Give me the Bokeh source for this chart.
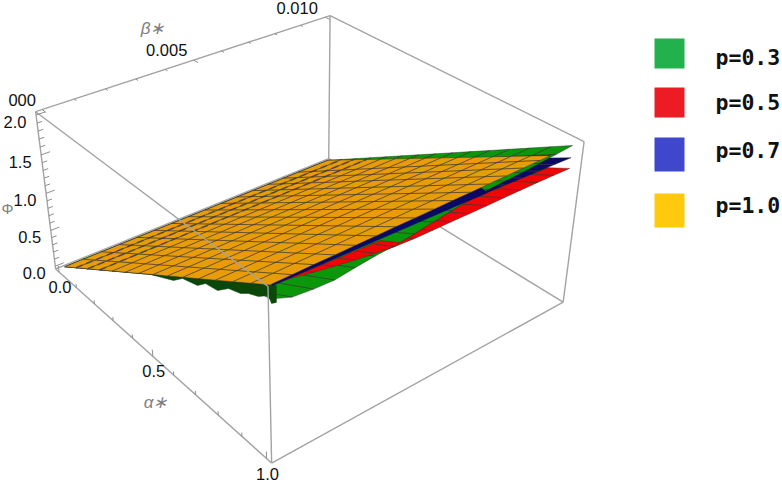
import numpy as np
from bokeh.plotting import figure
from bokeh.core.properties import value
from bokeh.embed import file_html
from bokeh.resources import INLINE

# ---- data -----------------------------------------------------------------
series_names = ["p=0.3", "p=0.5", "p=0.7", "p=1.0"]
legend_colors = ["#22b14c", "#ed1c24", "#3f48cc", "#ffc90e"]
sheet_green, sheet_red, sheet_blue, sheet_orange = "#0a980a", "#ee0606", "#0a0a66", "#e89c08"
under_color = "#0b470b"

beta_frac = [i / 16 for i in range(17)]
alpha_frac = [i / 14 for i in range(15)]

# Phi along alpha=1 at beta = j/16 * 0.01
orange_right = [1.975,1.976,1.977,1.977,1.978,1.979,1.980,1.980,1.981,1.982,1.982,1.983,1.984,1.985,1.985,1.986,1.987]
green_right  = [1.820,1.729,1.705,1.696,1.727,1.753,1.768,1.798,1.834,1.867,1.897,1.918,1.926,1.935,1.951,1.968,1.986]
blue_right   = [1.966,1.960,1.953,1.946,1.939,1.933,1.926,1.918,1.910,1.902,1.894,1.886,1.877,1.868,1.858,1.848,1.838]
red_right    = [1.961,1.939,1.892,1.852,1.814,1.783,1.756,1.742,1.738,1.735,1.731,1.727,1.726,1.724,1.720,1.714,1.707]
beta_end = {"orange": 0.00914, "green": 0.0100, "blue": 0.0100, "red": 0.0100}

# Phi along beta=0 at alpha = i/14
orange_front = [0.000,0.141,0.282,0.423,0.564,0.705,0.846,0.987,1.128,1.269,1.410,1.551,1.692,1.833,1.975]
green_front  = [0.000,0.141,0.282,0.423,0.564,0.705,0.846,0.987,1.128,1.269,1.410,1.551,1.700,1.780,1.820]
blue_front   = [0.000,0.141,0.282,0.423,0.564,0.705,0.846,0.987,1.128,1.269,1.410,1.551,1.692,1.833,1.966]
red_front    = [0.000,0.141,0.282,0.423,0.564,0.705,0.846,0.987,1.128,1.269,1.410,1.551,1.692,1.833,1.961]

# dark underside below the front edge (beta=0)
under_alpha = [0.489,0.488,0.598,0.641,0.707,0.743,0.793,0.839,0.887,0.918,0.957,0.994,1.005,1.023,1.024]
under_phi   = [1.016,0.962,1.131,1.250,1.313,1.416,1.447,1.574,1.625,1.696,1.750,1.847,1.783,1.837,2.023]

# red wedge over the green sheet and blue strip over it (alpha=1)
wedge_beta = [0.00010,0.000625,0.00125,0.001875,0.0025,0.003125,0.00375,0.00389,0.00327]
wedge_phi  = [1.961,1.939,1.892,1.852,1.814,1.783,1.756,1.778,1.903]
strip_beta = [0.00007,0.00685,0.00620,-0.00003]
strip_phi  = [1.955,1.887,2.125,2.082]

alpha_ticks = [i / 10 for i in range(11)]
beta_ticks  = [i / 1000 for i in range(11)]
phi_ticks   = [i / 10 for i in range(21)]
alpha_labels = {0.0: "0.0", 0.5: "0.5", 1.0: "1.0"}
beta_labels  = {0.0: "000", 0.005: "0.005", 0.01: "0.010"}
phi_labels   = {0.0: "0.0", 0.5: "0.5", 1.0: "1.0", 1.5: "1.5", 2.0: "2.0"}

A0, A1 = -0.02, 1.02
B0, B1 = -0.0002, 0.0102
F0, F1 = -0.04, 2.04

# camera of the 3D box
P = np.array([[160.41995, 309.96182, -21.77983, 64.24045],
              [105.67301, -83.6789, -159.40387, 266.28007],
              [-0.17586, 0.14277, -0.07069, 1.0]])

def proj(a, b, f):
    a, b, f = np.asarray(a, float), np.asarray(b, float), np.asarray(f, float)
    X = np.stack([a, b * 100, f / 2, np.ones_like(a + b + f)])
    h = P @ X
    return (h[0] / h[2]).tolist(), (h[1] / h[2]).tolist()

p = figure(width=782, height=482, x_range=(0, 782), y_range=(482, 0),
           output_backend="svg", toolbar_location=None,
           x_axis_location=None, y_axis_location=None, min_border=0)
p.grid.visible = False
p.outline_line_color = None

BOX = "#a3a3a3"
def edge(a, b, width=1.4):
    x, y = proj([a[0], b[0]], [a[1], b[1]], [a[2], b[2]])
    p.line(x, y, line_color=BOX, line_width=width)

# back edges of the box (beneath the surfaces)
edge((A0, B1, F0), (A0, B1, F1))
edge((A0, B1, F1), (A1, B1, F1))
edge((A0, B1, F0), (A1, B1, F0))
edge((A0, B0, F0), (A0, B1, F0))
edge((A1, B1, F0), (A1, B1, F1))
edge((A1, B0, F0), (A1, B1, F0))

bf = np.array(beta_frac)
af = np.array(alpha_frac)

def sheet(color, right, front, bend):
    right, front = np.array(right), np.array(front)
    betas = np.minimum(bf * 0.01, bend)
    back_b, back_f = 0.01 + af * (bend - 0.01), af * right[-1]
    a = np.concatenate([af, np.ones(17), af[::-1]])
    b = np.concatenate([np.zeros(15), betas, back_b[::-1]])
    f = np.concatenate([front, right, back_f[::-1]])
    x, y = proj(a, b, f)
    p.patch(x, y, fill_color=color, line_color="#222222", line_width=0.6, line_alpha=0.7)
    xs, ys = [], []
    for j in range(1, 16):
        if bf[j] * 0.01 >= bend:
            continue
        lx, ly = proj([0, 1], [0.01 * bf[j], betas[j]], [0, right[j]])
        xs.append(lx); ys.append(ly)
    for i in range(1, 14):
        lx, ly = proj([af[i], af[i]], [0, back_b[i]], [front[i], back_f[i]])
        xs.append(lx); ys.append(ly)
    p.multi_line(xs, ys, line_color="#3a3a3a", line_width=1, line_alpha=0.75)
    return back_b, back_f

sheet(sheet_red, red_right, red_front, beta_end["red"])
sheet(sheet_blue, blue_right, blue_front, beta_end["blue"])
sheet(sheet_green, green_right, green_front, beta_end["green"])

# underside
x, y = proj(under_alpha, np.zeros(len(under_alpha)), under_phi)
p.patch(x, y, fill_color=under_color, line_color=under_color, line_width=0.5)

# red wedge in front of green
x, y = proj(np.ones(len(wedge_beta)), wedge_beta, wedge_phi)
p.patch(x, y, fill_color=sheet_red, line_color="#222222", line_width=0.5, line_alpha=0.6)
xs, ys = [], []
for j in range(1, 7):
    lx, ly = proj([1, 0.93], [bf[j] * 0.01, bf[j] * 0.01], [red_right[j], red_right[j] * 0.93])
    xs.append(lx); ys.append(ly)
p.multi_line(xs, ys, line_color="#3a3a3a", line_width=1, line_alpha=0.75)

# blue strip above the wedge
x, y = proj(np.ones(len(strip_beta)), strip_beta, strip_phi)
p.patch(x, y, fill_color=sheet_blue, line_color=sheet_blue, line_width=0.5)

back_b, back_f = sheet(sheet_orange, orange_right, orange_front, beta_end["orange"])

# mesh lines of the sheets beneath show through next to the alpha=0 edge
xs, ys = [], []
for i in (1, 2, 3):
    lx, ly = proj([af[i], af[i]], [0, back_b[i]], [orange_front[i], back_f[i]])
    xs.append(lx); ys.append(ly)
p.multi_line(xs, ys, line_color="#35353f", line_width=1.7, line_alpha=0.55, line_dash="7 4")

# front edges over the surfaces
edge((A0, B0, F1), (A1, B0, F1))
edge((A1, B0, F0), (A1, B0, F1))
edge((A0, B0, F0), (A1, B0, F0))
edge((A0, B0, F0), (A0, B0, F1))
edge((A0, B0, F1), (A0, B1, F1))

# ticks
TICK = "#8f8f8f"
xs, ys = [], []
for t in alpha_ticks:
    L = 0.09 if t in alpha_labels else 0.05
    lx, ly = proj([t, t], [B0, B0], [F0, F0 + L]); xs.append(lx); ys.append(ly)
for t in beta_ticks:
    L = 0.022 if t in beta_labels else 0.012
    lx, ly = proj([A0, A0 + L], [t, t], [F1, F1]); xs.append(lx); ys.append(ly)
for t in phi_ticks:
    L = 0.00028 if t in phi_labels else 0.00016
    lx, ly = proj([A0, A0], [B0, B0 + L], [t, t]); xs.append(lx); ys.append(ly)
p.multi_line(xs, ys, line_color=TICK, line_width=1)

# tick labels
font = value("Liberation Sans")
tx, ty, tt = [], [], []
for t, s in alpha_labels.items():
    lx, ly = proj([t], [B0], [F0]); tx.append(lx[0] + 1); ty.append(ly[0] + 15); tt.append(s)
for (t, s), off in zip(beta_labels.items(), [(-20, -10), (-27, -10), (-28, -9)]):
    lx, ly = proj([A0], [t], [F1]); tx.append(lx[0] + off[0]); ty.append(ly[0] + off[1]); tt.append(s)
for t, s in phi_labels.items():
    lx, ly = proj([A0], [B0], [t]); tx.append(lx[0] - 21); ty.append(ly[0] + 7); tt.append(s)
p.text(tx, ty, text=tt, text_font=font, text_font_size="16.5px", text_color="#111111",
       text_align="center", text_baseline="middle")

# axis titles
p.text([152, 155], [28, 402], text=["β∗", "α∗"], text_font=font, text_font_size="17px",
       text_font_style="italic", text_color="#808080", text_align="center", text_baseline="middle")
p.text([7], [208], text=["Φ"], text_font=font, text_font_size="15px", text_color="#808080",
       text_align="center", text_baseline="middle")

# legend
leg_top = [38, 87, 137, 193]
leg_bot = [68, 117, 171, 227]
leg_y = [57, 102, 150, 205]
p.quad(left=[654] * 4, right=[684] * 4, top=leg_top, bottom=leg_bot,
       fill_color=legend_colors, line_color=None)
p.text([715] * 4, leg_y, text=series_names, text_font=value("DejaVu Sans Mono"), text_font_size="21.5px",
       text_font_style="bold", text_color="#111111", text_align="left", text_baseline="middle")

open("out.html", "w").write(file_html(p, INLINE))
